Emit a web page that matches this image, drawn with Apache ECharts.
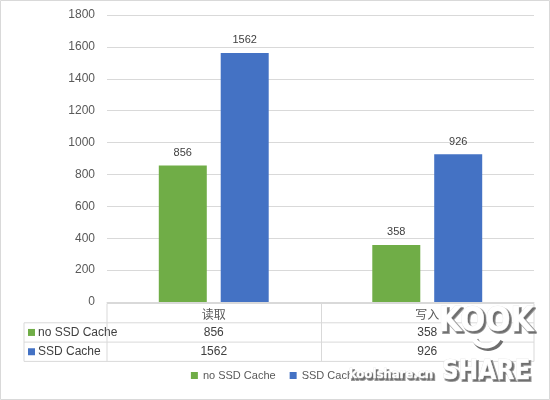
<!DOCTYPE html>
<html><head><meta charset="utf-8">
<script src="https://cdn.jsdelivr.net/npm/echarts@6/dist/echarts.min.js"></script>
<style>html,body{margin:0;padding:0;background:#fff}#c{width:550px;height:400px}</style>
</head><body><div id="c"></div>
<script>
const categories = ['读取', '写入'];
const seriesNames = ['no SSD Cache', 'SSD Cache'];
const noSsdValues = [856, 358];
const ssdValues = [1562, 926];
const yTicks = [0, 200, 400, 600, 800, 1000, 1200, 1400, 1600, 1800];

const colors = ['#70AD47', '#4472C4'];
const font = '"Liberation Sans", "Noto Sans CJK SC", sans-serif';
const chart = echarts.init(document.getElementById('c'));
const G = {left: 107, right: 16, top: 15, bottom: 98};
const option = {
  animation: false,
  textStyle: {fontFamily: font},
  grid: G,
  legend: {
    data: seriesNames, bottom: 14, left: 'center', itemWidth: 7, itemHeight: 7, itemGap: 14,
    icon: 'rect', textStyle: {fontSize: 11, color: '#595959', fontFamily: font}
  },
  xAxis: {
    type: 'category', data: categories,
    axisLine: {lineStyle: {color: '#d9d9d9'}}, axisTick: {show: false},
    axisLabel: {color: '#595959', fontSize: 12, margin: 6, fontFamily: '"Noto Sans CJK SC", sans-serif'}
  },
  yAxis: {
    type: 'value', min: yTicks[0], max: yTicks[yTicks.length - 1], interval: 200,
    axisLine: {show: false}, axisTick: {show: false},
    splitLine: {lineStyle: {color: '#d9d9d9'}},
    axisLabel: {color: '#595959', fontSize: 12, margin: 12, fontFamily: font, formatter: v => String(v)}
  },
  series: [
    {name: seriesNames[0], type: 'bar', data: noSsdValues, barWidth: 48, barGap: '29%',
     itemStyle: {color: colors[0]},
     label: {show: true, position: 'top', distance: 7, color: '#404040', fontSize: 11, fontFamily: font}},
    {name: seriesNames[1], type: 'bar', data: ssdValues, barWidth: 48,
     itemStyle: {color: colors[1]},
     label: {show: true, position: 'top', distance: 7, color: '#404040', fontSize: 11, fontFamily: font}}
  ]
};
chart.setOption(option);

// data table below the axis
const W = 550, H = 400;
const x0 = G.left, x1 = W - G.right, yTop = H - G.bottom;
const rowH = 19.3;
const labelLeft = 24;
const lineColor = '#d9d9d9';
const els = [];
function line(xa, ya, xb, yb) {
  els.push({type: 'line', shape: {x1: xa, y1: ya, x2: xb, y2: yb}, style: {stroke: lineColor, lineWidth: 1}, silent: true});
}
els.push({type: 'rect', shape: {x: 0.5, y: 0.5, width: W - 1, height: H - 1}, style: {fill: null, stroke: lineColor, lineWidth: 1}, silent: true});
const rows = [noSsdValues, ssdValues];
const yH = yTop + 1.5;
line(x0, yH, x1, yH);
line(x0, yH, x0, yH + rowH);
line(x1, yH, x1, yH + rowH * 3);
const bandW = (x1 - x0) / categories.length;
for (let i = 1; i < categories.length; i++) {
  const xd = Math.round(x0 + bandW * i) + 0.5;
  line(xd, yH, xd, yH + rowH * 3);
}
for (let r = 0; r < rows.length; r++) {
  const yr = yH + rowH * (r + 1);
  line(labelLeft, yr, x1, yr);
  els.push({type: 'rect', shape: {x: labelLeft + 4, y: yr + rowH / 2 - 3.5, width: 7, height: 7}, style: {fill: colors[r]}, silent: true});
  els.push({type: 'text', x: labelLeft + 14, y: yr + rowH / 2, style: {text: seriesNames[r], fill: '#404040', font: '12px ' + font, textVerticalAlign: 'middle', verticalAlign: 'middle'}, silent: true});
  for (let c = 0; c < categories.length; c++) {
    const cx = chart.convertToPixel({xAxisIndex: 0}, categories[c]);
    els.push({type: 'text', x: cx, y: yr + rowH / 2, style: {text: String(rows[r][c]), fill: '#404040', font: '12px ' + font, align: 'center', textAlign: 'center', verticalAlign: 'middle', textVerticalAlign: 'middle'}, silent: true});
  }
}
const yB = yH + rowH * 3;
line(labelLeft, yH + rowH, labelLeft, yB);
line(x0, yH + rowH, x0, yB);
line(labelLeft, yB, x1, yB);

// watermark (white text with grey drop shadow drawn as an offset copy)
function wmText(txt, x, y, size, align) {
  const f = 'bold ' + size + 'px "DejaVu Sans Condensed", sans-serif';
  const base = {text: txt, font: f, align: align, textAlign: align, verticalAlign: 'middle', textVerticalAlign: 'middle'};
  els.push({type: 'text', x: x + 2, y: y + 2, style: Object.assign({}, base, {fill: '#6e6e6e', stroke: '#9a9a9a', lineWidth: 2}), z: 99, silent: true});
  els.push({type: 'text', x: x, y: y, style: Object.assign({}, base, {fill: '#ffffff', stroke: '#e0e0e0', lineWidth: 0.6}), z: 100, silent: true});
}
wmText('koolshare.cn', 433, 375, 13, 'right');
wmText('KOOK', 486, 322, 33, 'center');
wmText('SHARE', 486, 372, 26, 'center');
els.push({type: 'arc', shape: {cx: 488, cy: 334, r: 14, startAngle: 0.45, endAngle: Math.PI - 0.45}, style: {stroke: '#6e6e6e', lineWidth: 6, fill: null}, z: 99, silent: true});
els.push({type: 'arc', shape: {cx: 486, cy: 332, r: 14, startAngle: 0.45, endAngle: Math.PI - 0.45}, style: {stroke: '#ffffff', lineWidth: 5, fill: null}, z: 100, silent: true});
chart.setOption({graphic: {elements: els}});
</script>
</body></html>
